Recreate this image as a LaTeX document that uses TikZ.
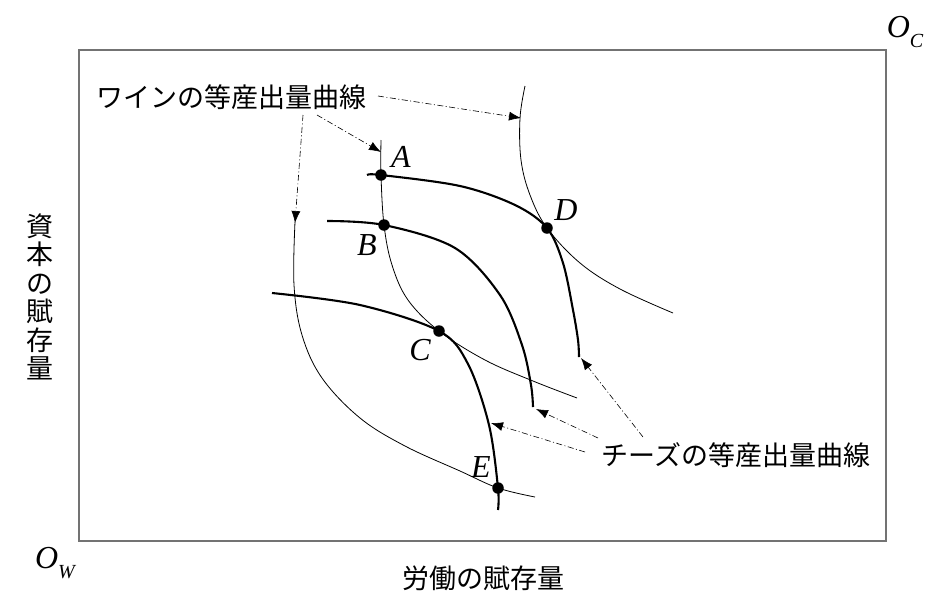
\documentclass[tikz,border=0pt]{standalone}
\usepackage{fontspec}
\setmainfont{Liberation Serif}
\newfontfamily\jpfont{Noto Sans CJK JP}
\usetikzlibrary{arrows.meta}
\tikzset{
  thinc/.style={line width=0.8pt},
  thickc/.style={line width=2.1pt},
  ptr/.style={line width=0.6pt, dash pattern=on 6pt off 2.5pt on 1pt off 2.5pt, -{Latex[length=12pt,width=9pt]}},
  dot/.style={circle, fill=black, inner sep=0pt, minimum size=11.5pt},
  jp/.style={font=\jpfont\fontsize{27}{28}\selectfont, inner sep=0pt},
  lab/.style={font=\fontsize{32}{32}\selectfont\itshape, inner sep=0pt},
}
\begin{document}
\begin{tikzpicture}[x=1pt,y=-1pt]
\useasboundingbox (0,0) rectangle (952,606);
% frame
\draw[line width=1.2pt, black!55] (79,50) rectangle (886,541);
\node[lab] (OC) at (905,32) {O\raisebox{-0.3em}{\fontsize{20}{20}\selectfont C}};
\node[lab] (OW) at (55,563) {O\raisebox{-0.3em}{\fontsize{20}{20}\selectfont W}};
\node[jp] (xl) at (483,578) {労働の賦存量};
\node[jp, align=center, font=\jpfont\fontsize{27}{28.5}\selectfont] (yl) at (40,297) {資\\本\\の\\賦\\存\\量};
% points
\coordinate (A) at (381,175);
\coordinate (B) at (384,225);
\coordinate (C) at (439,331);
\coordinate (D) at (547,228);
\coordinate (E) at (498,488);
% wine isoquants (thin)
\draw[thinc] plot[smooth, tension=0.6] coordinates {(381,140) (A) (B) (392,265) (408,300) (C) (485,360) (533,381) (577,398)};
\draw[thinc] plot[smooth, tension=0.6] coordinates {(295,222) (294,285) (302,335) (322,378) (360,418) (405,446) (460,471) (E) (535,497)};
\draw[thinc] plot[smooth, tension=0.6] coordinates {(525,86) (520,118) (521,160) (530,195) (D) (580,263) (620,289) (673,313)};
% cheese isoquants (thick)
\draw[thickc] plot[smooth, tension=0.55] coordinates {(367,175) (A) (460,186) (515,205) (D) (563,263) (573,310) (578,340) (579,357)};
\draw[thickc] plot[smooth, tension=0.55] coordinates {(327,221) (B) (455,248) (500,295) (522,345) (531,385) (533,407)};
\draw[thickc] plot[smooth, tension=0.55] coordinates {(272,293) (360,305) (C) (468,364) (489,425) (E) (498,510)};
% dots
\foreach \p in {A,B,C,D,E} \node[dot] at (\p) {};
% point labels
\node[lab] (lA) at (401,157) {A};
\node[lab] (lB) at (367,245) {B};
\node[lab] (lC) at (420,350) {C};
\node[lab] (lD) at (566,210) {D};
\node[lab] (lE) at (481,467) {E};
% callout texts
\node[jp] (wine) at (231,97) {ワインの等産出量曲線};
\node[jp] (chz) at (736,455) {チーズの等産出量曲線};
% pointer ends
\coordinate (w1s) at (378,96);
\coordinate (w1e) at (521,118);
\coordinate (w2s) at (317,115);
\coordinate (w2e) at (381,152);
\coordinate (w3s) at (303,115);
\coordinate (w3e) at (295,223);
\coordinate (c1s) at (585,452);
\coordinate (c1e) at (491,423);
\coordinate (c2s) at (598,438);
\coordinate (c2e) at (536,409);
\coordinate (c3s) at (643,437);
\coordinate (c3e) at (581,358);
\draw[ptr] (w1s) -- (w1e);
\draw[ptr] (w2s) -- (w2e);
\draw[ptr] (w3s) -- (w3e);
\draw[ptr] (c1s) -- (c1e);
\draw[ptr] (c2s) -- (c2e);
\draw[ptr] (c3s) -- (c3e);
\end{tikzpicture}
\end{document}
